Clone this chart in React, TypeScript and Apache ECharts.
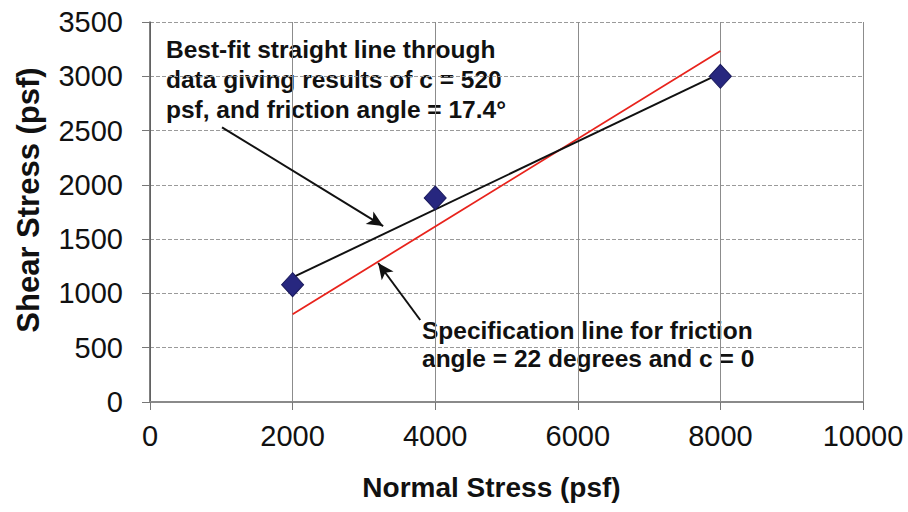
import React, { useEffect, useRef } from "react";
import * as echarts from "echarts";

// Measured test data
const testNormal = [2000, 4000, 8000];
const testShear = [1080, 1880, 3000];

// Best-fit line (c = 520 psf, phi = 17.4 deg)
const fitNormal = [2000, 8000];
const fitShear = [1147, 3027];

// Specification line (phi = 22 deg, c = 0)
const specNormal = [2000, 8000];
const specShear = [808, 3232];

const xTicks = [0, 2000, 4000, 6000, 8000, 10000];
const yTicks = [0, 500, 1000, 1500, 2000, 2500, 3000, 3500];

const annotation1 = [
  "Best-fit straight line through",
  "data giving results of c = 520",
  "psf, and friction angle = 17.4°",
];
const annotation2 = [
  "Specification line for friction",
  "angle = 22 degrees and c = 0",
];

const FONT = "'Liberation Sans', Arial, Helvetica, sans-serif";

export default function App() {
  const ref = useRef<HTMLDivElement>(null);

  useEffect(() => {
    if (!ref.current) return;
    const chart = echarts.init(ref.current, null, { renderer: "svg" });
    const pairs = (xs: number[], ys: number[]) => xs.map((x, i) => [x, ys[i]]);

    chart.setOption({
      animation: false,
      backgroundColor: "#ffffff",
      grid: { left: 150, right: 45, top: 22, bottom: 110, containLabel: false },
      xAxis: {
        type: "value",
        min: xTicks[0],
        max: xTicks[xTicks.length - 1],
        interval: 2000,
        name: "Normal Stress (psf)",
        nameLocation: "middle",
        nameGap: 71,
        nameTextStyle: {
          fontFamily: FONT,
          fontSize: 28,
          fontWeight: "bold",
          color: "#111",
          padding: [0, 30, 0, 0],
        },
        axisLine: { show: true, lineStyle: { color: "#8a8a8a", width: 2 } },
        axisTick: { show: true, inside: false, length: 8, lineStyle: { color: "#777" } },
        axisLabel: {
          fontFamily: FONT,
          fontSize: 29,
          color: "#111",
          margin: 19,
          formatter: (v: number) => String(v),
        },
        splitLine: { show: true, lineStyle: { color: "#8c8c8c", width: 1 } },
      },
      yAxis: {
        type: "value",
        min: yTicks[0],
        max: yTicks[yTicks.length - 1],
        interval: 500,
        name: "Shear Stress (psf)",
        nameLocation: "middle",
        nameGap: 106,
        nameTextStyle: {
          fontFamily: FONT,
          fontSize: 31,
          fontWeight: "bold",
          color: "#111",
          padding: [0, 0, 0, 24],
        },
        axisLine: { show: true, lineStyle: { color: "#555", width: 1.5 } },
        axisTick: { show: true, inside: false, length: 8, lineStyle: { color: "#777" } },
        axisLabel: {
          fontFamily: FONT,
          fontSize: 29,
          color: "#111",
          margin: 27,
          formatter: (v: number) => String(v),
        },
        splitLine: { show: true, lineStyle: { color: "#9a9a9a", width: 1.2, type: [4, 2] } },
      },
      graphic: [
        {
          type: "text",
          left: 166,
          top: 34,
          silent: true,
          style: {
            text: annotation1.join("\n"),
            fontFamily: FONT,
            fontSize: 24.5,
            fontWeight: "bold",
            lineHeight: 30,
            fill: "#111",
          },
        },
        {
          type: "text",
          left: 422,
          top: 316,
          silent: true,
          style: {
            text: annotation2.join("\n"),
            fontFamily: FONT,
            fontSize: 24.5,
            fontWeight: "bold",
            lineHeight: 28,
            fill: "#111",
          },
        },
      ],
      series: [
        {
          name: "Specification",
          type: "line",
          data: pairs(specNormal, specShear),
          symbol: "none",
          lineStyle: { color: "#e8231c", width: 1.8 },
          z: 2,
        },
        {
          name: "Best fit",
          type: "line",
          data: pairs(fitNormal, fitShear),
          symbol: "none",
          lineStyle: { color: "#111", width: 2 },
          z: 3,
          markLine: {
            silent: true,
            symbol: ["none", "arrow"],
            symbolSize: [11, 16],
            label: { show: false },
            lineStyle: { color: "#111", width: 2, type: "solid" },
            data: [
              [{ coord: [1010, 2530] }, { coord: [3270, 1620] }],
              [{ coord: [3790, 755] }, { coord: [3200, 1280] }],
            ],
          },
        },
        {
          name: "Test data",
          type: "scatter",
          data: pairs(testNormal, testShear),
          symbol: "diamond",
          symbolSize: [22, 24],
          itemStyle: { color: "#27277f", borderColor: "#1a1a5c", borderWidth: 1, opacity: 1 },
          z: 4,
        },
      ],
    });

    return () => chart.dispose();
  }, []);

  return (
    <div
      ref={ref}
      style={{ width: 908, height: 512, position: "absolute", left: 0, top: 0 }}
    />
  );
}
